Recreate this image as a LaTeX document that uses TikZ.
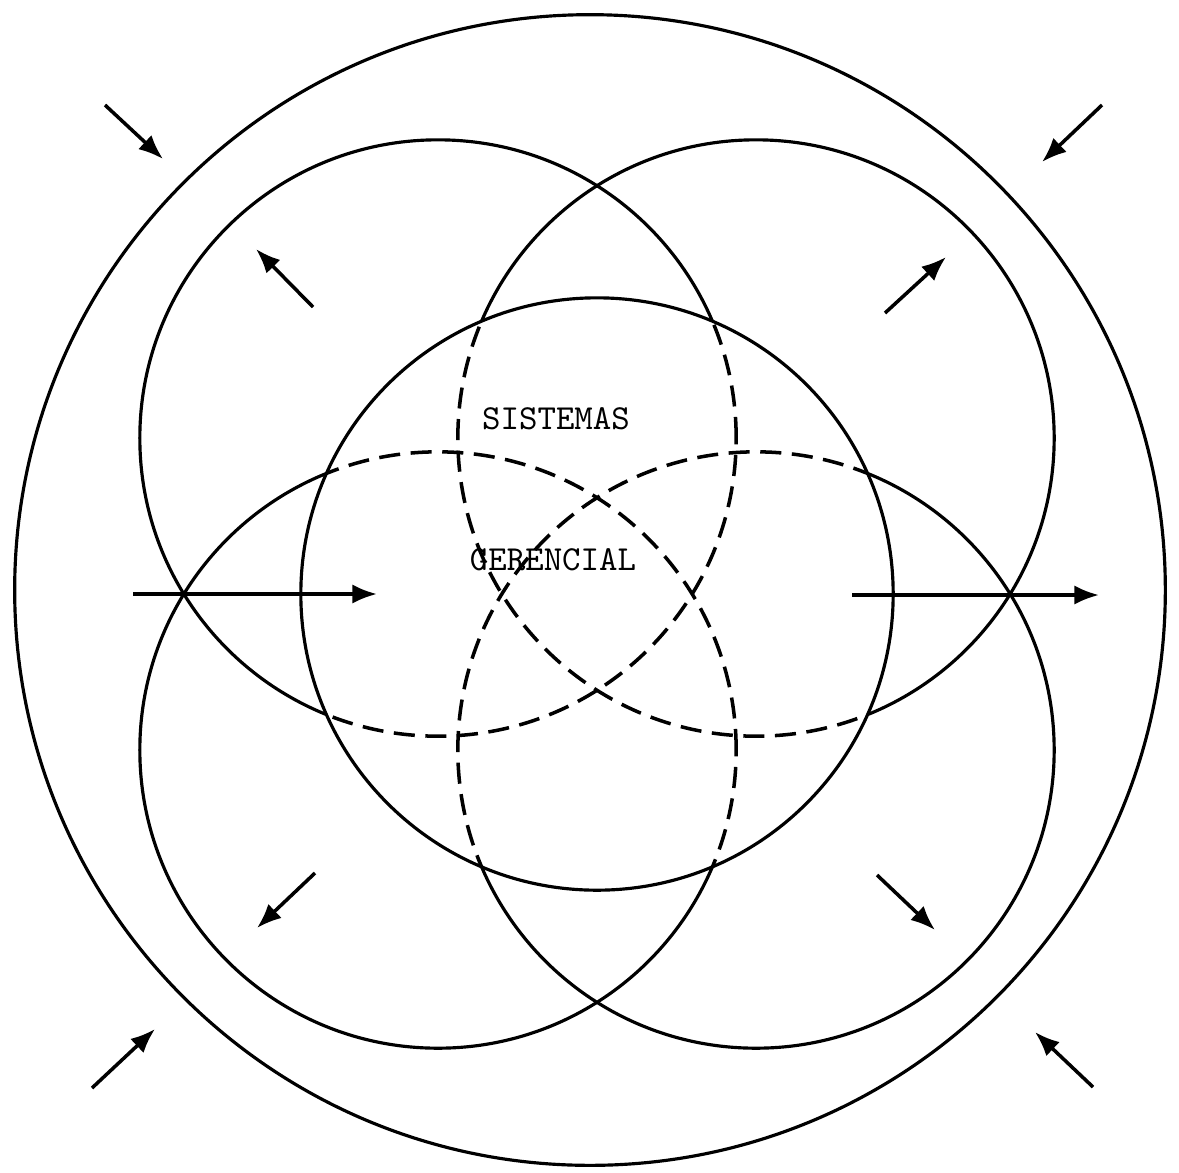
\documentclass[tikz,border=0pt]{standalone}
\usepackage{fontspec}
\usetikzlibrary{arrows.meta}
\tikzset{
  ring/.style    = {line width=0.9pt},
  hidden/.style  = {line width=1pt, dash pattern=on 6pt off 3pt},
  flow/.style    = {-{Latex[length=7pt,width=5.5pt]}, line width=1pt},
  caption/.style = {font=\ttfamily\fontsize{10}{12}\selectfont, inner sep=0pt},
}
\begin{document}
\begin{tikzpicture}[x=0.01cm, y=-0.01cm]
  \useasboundingbox[fill=white] (0,0) rectangle (1179,1172);

  \coordinate (core) at (597,594);
  \foreach \n/\x/\y in {nw/438/438, ne/756/438, sw/438/750, se/756/750}
    \coordinate (\n) at (\x,\y);

  % environment
  \draw[ring] (590,590) circle (5.75cm);

  % subsystems: solid outside the core, dashed inside it
  \begin{scope}[even odd rule]
    \clip (0,0) rectangle (1179,1172) (core) circle (2.96cm);
    \foreach \c in {nw,ne,sw,se} \draw[ring] (\c) circle (2.98cm);
  \end{scope}
  \begin{scope}
    \clip (core) circle (2.96cm);
    \foreach \c in {nw,ne,sw,se} \draw[hidden] (\c) circle (2.98cm);
  \end{scope}
  \draw[ring] (core) circle (2.96cm);

  \node[caption] (name1) at (556,419) {SISTEMAS};
  \node[caption] (name2) at (553,560) {GERENCIAL};

  % flows in and out
  \foreach \n/\a/\b/\c/\d in {
      otl/105/105/163/159, otr/1102/105/1042/162,
      obl/92/1088/155/1029, obr/1093/1087/1035/1032,
      itl/313/307/256/249, itr/885/313/946/257,
      ibl/315/873/257/928, ibr/877/875/935/930,
      hin/133/594/377/594, hout/852/595/1099/595} {
    \coordinate (\n-s) at (\a,\b);
    \coordinate (\n-e) at (\c,\d);
    \draw[flow] (\n-s) -- (\n-e);
  }
\end{tikzpicture}
\end{document}
